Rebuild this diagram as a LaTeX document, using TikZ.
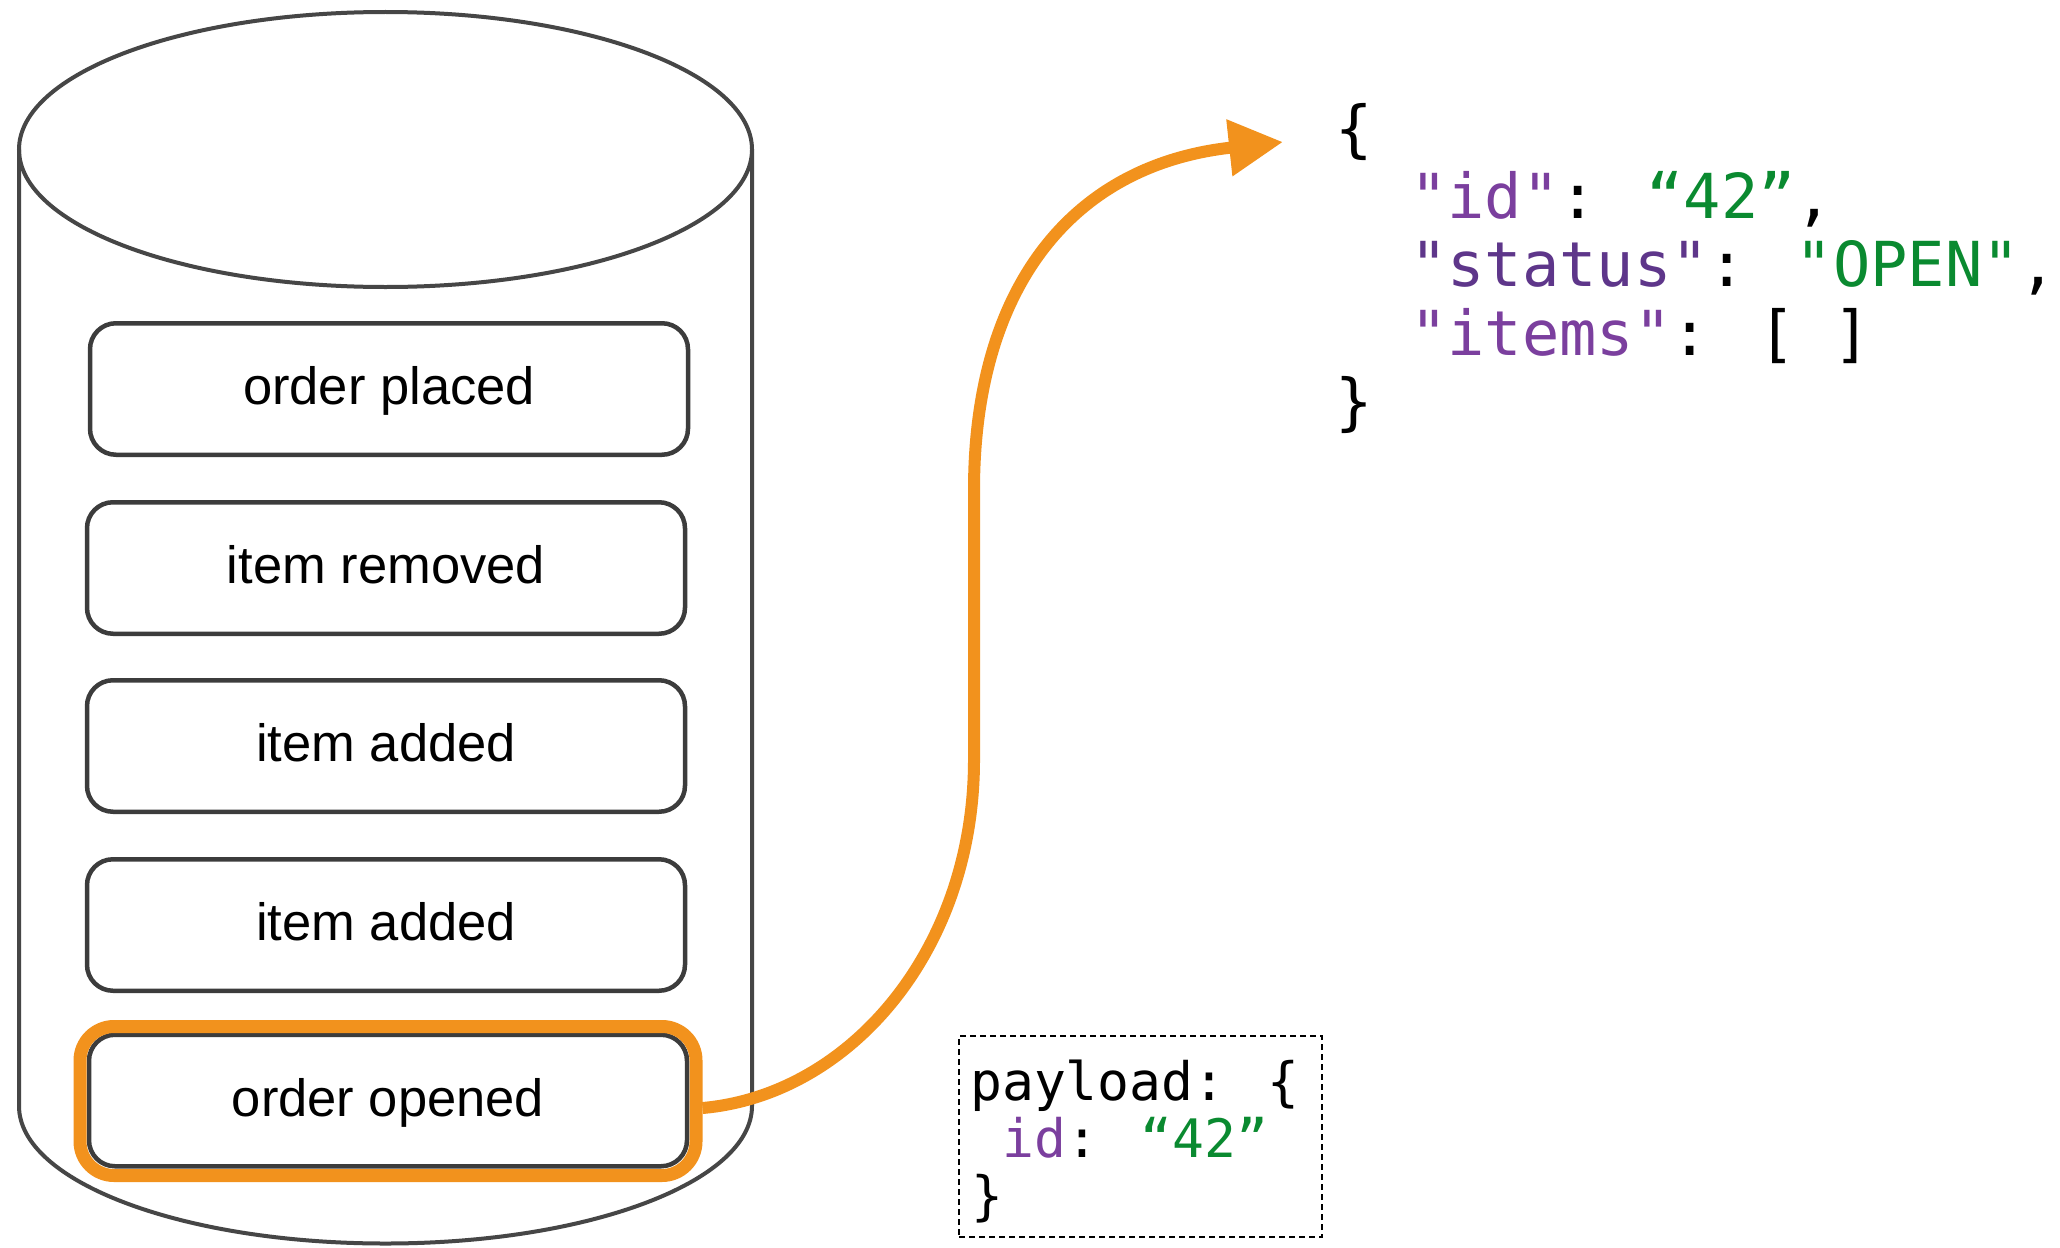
\documentclass[tikz,border=0pt]{standalone}
\usepackage{fontspec}
\setmainfont{Liberation Sans}
\newfontfamily\codefont{DejaVu Sans Mono}
\usetikzlibrary{arrows.meta}
\definecolor{cylgray}{RGB}{70,70,70}
\definecolor{boxgray}{RGB}{60,60,60}
\definecolor{hlorange}{RGB}{242,146,29}
\definecolor{keypurple}{RGB}{123,63,158}
\definecolor{keydark}{RGB}{94,54,138}
\definecolor{valgreen}{RGB}{10,138,48}
\begin{document}
\begin{tikzpicture}[x=1pt,y=-1pt,
  event/.style={draw=boxgray, line width=4.5pt, rounded corners=26pt,
    minimum width=598pt, minimum height=131.5pt, inner sep=0pt,
    text height=39pt, text depth=8pt, font=\fontsize{52.5}{60}\selectfont},
  highlight/.style={draw=hlorange, line width=13pt, rounded corners=34pt,
    minimum width=616pt, minimum height=149pt, inner sep=0pt},
  json/.style={anchor=base west, inner sep=0pt, font=\codefont\fontsize{62}{68}\selectfont},
  pay/.style={anchor=base west, inner sep=0pt, font=\codefont\fontsize{53}{57}\selectfont},
  paybox/.style={draw=black, line width=2.7pt, dash pattern=on 6pt off 4pt,
    minimum width=363pt, minimum height=201pt, inner sep=0pt},
  flow/.style={draw=hlorange, line width=12pt, -{Triangle[length=54pt,width=54pt]}},
  cyl/.style={draw=cylgray, line width=4pt}]
\useasboundingbox (0,0) rectangle (2060,1247);
\fill[white] (0,0) rectangle (2060,1247);

% cylinder
\draw[cyl] (19,149.5) -- (19,1106)
  arc[start angle=180, end angle=0, x radius=366.5, y radius=137.5] -- (752,149.5);
\draw[cyl] (385.5,149.5) ellipse [x radius=366.5, y radius=137.5];

% events
\node[event] (e1) at (389,389) {order placed};
\node[event] (e2) at (386,568) {item removed};
\node[event] (e3) at (386,746) {item added};
\node[event] (e4) at (386,925) {item added};
\node[event] (e5) at (388,1100.5) {order opened};
\node[highlight] (hl) at (388,1101) {};

% arrow
\coordinate (tip) at (1283,142);
\draw[flow] ([yshift=-7pt]hl.east) .. controls (850,1095) and (974,950) .. (974,760)
  -- (974,490) .. controls (974,290) and (1070,165) .. (tip);

% JSON state
\node[json] (j1) at (1335,150) {\{};
\node[json] (j2) at (1410,218) {{\color{keypurple}"id"}: {\color{valgreen}“42”},};
\node[json] (j3) at (1410,286.5) {{\color{keydark}"status"}: {\color{valgreen}"OPEN"},};
\node[json] (j4) at (1410,355) {{\color{keypurple}"items"}: [ ]};
\node[json] (j5) at (1335,423.5) {\}};

% payload
\node[paybox] (pbox) at (1140.5,1136.5) {};
\node[pay] (p1) at (970,1100) {payload: \{};
\node[pay] (p2) at (1002,1157) {{\color{keypurple}id}: {\color{valgreen}“42”}};
\node[pay] (p3) at (971,1214) {\}};
\end{tikzpicture}
\end{document}
